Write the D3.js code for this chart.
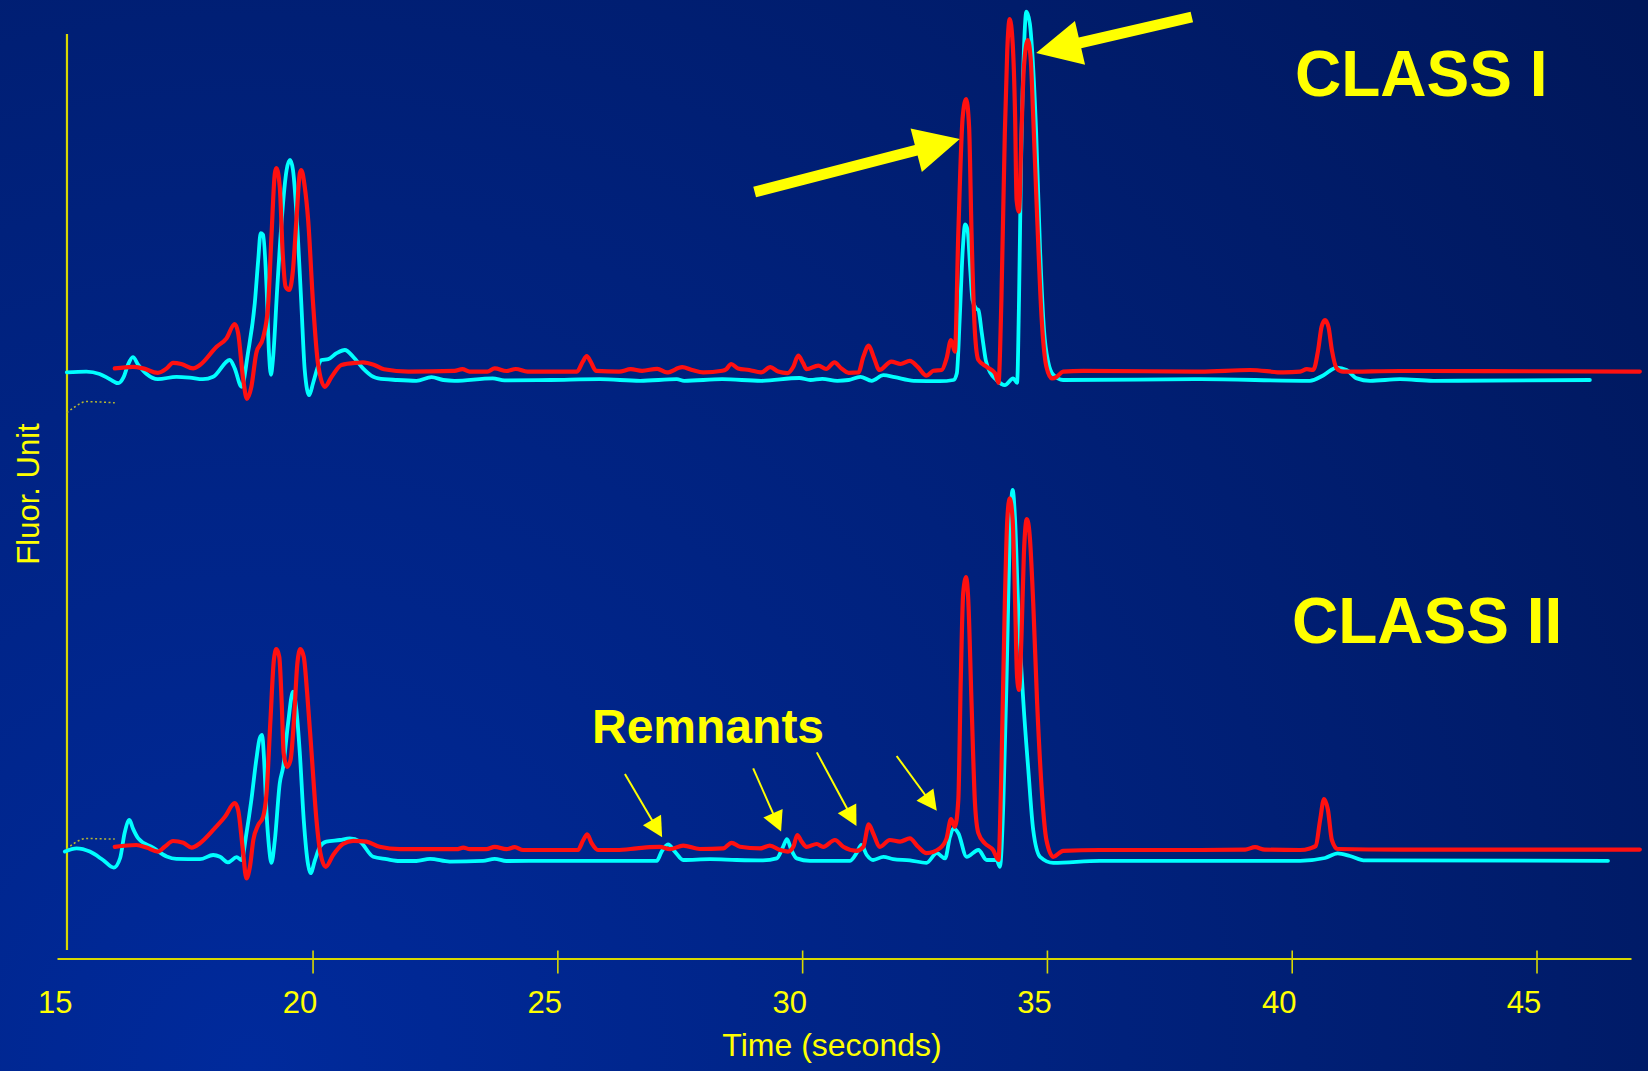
<!DOCTYPE html>
<html>
<head>
<meta charset="utf-8">
<script src="https://cdn.jsdelivr.net/npm/d3@7"></script>
<style>
  html, body { margin: 0; padding: 0; overflow: hidden; background: #001e72; }
  svg { display: block; }
</style>
</head>
<body>
<svg id="chart" width="1648" height="1071"></svg>
<script>
// ---- Electropherogram traces: [time (s), fluorescence (relative units)] ----
const timeTicks = [15, 20, 25, 30, 35, 40, 45];

// CLASS I, cyan trace
const class1Cyan = [
  [14.98,1.9],[15.38,2.1],[15.65,1.5],[15.86,0.2],[16.03,-0.8],[16.14,0.7],[16.23,3.8],[16.33,5.7],
  [16.44,3.8],[16.61,1.5],[16.84,0.2],[17.22,0.8],[17.49,0.6],[17.76,0.2],[17.97,0.8],[18.31,5.0],
  [18.41,2.9],[18.55,-1.7],[18.68,6.7],[18.82,19.2],[18.89,30.0],[18.94,36.7],[18.99,36.3],[19.06,23.3],
  [19.11,6.7],[19.15,1.3],[19.19,5.0],[19.28,23.3],[19.37,40.0],[19.47,52.5],[19.54,55.0],[19.60,52.5],
  [19.70,35.8],[19.77,19.2],[19.84,2.5],[19.93,-3.8],[20.01,-0.8],[20.11,3.3],[20.18,5.0],[20.32,5.2],
  [20.49,6.7],[20.66,7.5],[20.83,5.8],[21.03,2.9],[21.24,0.8],[21.34,0.4],[21.73,0],[22.12,-0.2],
  [22.43,0.7],[22.67,0],[22.90,-0.2],[23.68,0.4],[23.92,-0.1],[24.86,0],[25.87,0.2],[26.69,-0.2],
  [27.44,0.2],[27.59,-0.2],[28.37,0.2],[29.16,-0.2],[29.94,0.5],[30.17,0],[30.41,0.3],[30.72,-0.2],
  [30.95,0],[31.19,0.8],[31.42,-0.2],[31.66,1.2],[31.89,0.7],[32.28,-0.2],[32.81,-0.3],[33.09,0],
  [33.16,1.7],[33.22,15.8],[33.28,32.5],[33.33,38.9],[33.38,37.5],[33.43,28.3],[33.48,20.0],[33.55,17.9],
  [33.60,17.5],[33.67,11.7],[33.75,5.0],[33.85,1.7],[33.97,0],[34.14,-1.3],[34.31,0.4],[34.39,-0.7],
  [34.43,20.0],[34.47,53.3],[34.53,82.5],[34.58,92.1],[34.65,89.2],[34.71,80.0],[34.78,61.8],[34.86,32.5],
  [34.94,12.5],[35.03,4.3],[35.13,1.3],[35.33,0],[38.13,0.2],[40.37,-0.2],[40.65,1.2],[40.92,3.1],
  [41.12,2.5],[41.33,0.4],[41.60,-0.2],[42.21,0.2],[42.89,-0.2],[46.09,0]
];

// CLASS I, red trace
const class1Red = [
  [15.96,2.9],[16.33,3.3],[16.54,2.9],[16.84,1.8],[17.02,2.9],[17.15,4.3],[17.32,4.0],[17.56,2.9],
  [17.70,3.75],[18.04,8.3],[18.24,10.4],[18.41,14.0],[18.48,11.7],[18.58,0.5],[18.66,-4.7],[18.75,-1.7],
  [18.85,6.7],[18.99,10.6],[19.09,18.3],[19.16,35.8],[19.23,51.7],[19.26,53.0],[19.33,48.3],[19.39,31.7],
  [19.45,23.3],[19.52,22.5],[19.60,27.5],[19.67,40.0],[19.74,51.7],[19.77,52.5],[19.84,48.3],[19.91,40.0],
  [20.01,19.2],[20.11,4.2],[20.25,-1.7],[20.39,0.8],[20.59,3.75],[20.90,4.3],[21.03,4.4],[21.26,3.75],
  [21.46,2.7],[21.96,2.1],[22.90,2.3],[23.06,2.7],[23.21,2.1],[23.57,2.1],[23.72,2.9],[23.96,2.25],
  [24.15,2.75],[24.39,2.1],[25.40,2.1],[25.52,4.6],[25.60,6.0],[25.68,4.6],[25.79,2.3],[26.26,2.1],
  [26.50,2.7],[26.73,2.3],[27.04,2.8],[27.24,1.9],[27.55,3.2],[27.75,2.5],[27.98,1.9],[28.37,2.3],
  [28.45,2.7],[28.55,4.0],[28.69,2.9],[28.92,2.5],[29.16,1.9],[29.35,3.2],[29.51,2.1],[29.70,1.7],
  [29.82,3.3],[29.92,6.1],[30.02,4.2],[30.09,2.7],[30.33,3.6],[30.49,2.75],[30.66,4.4],[30.80,2.9],
  [30.95,1.8],[31.15,1.9],[31.25,5.8],[31.36,8.6],[31.46,5.8],[31.58,2.5],[31.82,4.6],[32.01,4.0],
  [32.20,4.8],[32.36,3.3],[32.54,1.1],[32.68,2.3],[32.85,2.5],[32.95,5.4],[33.04,10.0],[33.12,7.1],
  [33.19,36.75],[33.28,65.8],[33.35,70.25],[33.41,63.3],[33.46,36.75],[33.53,11.75],[33.60,5.0],[33.77,3.3],
  [33.94,1.7],[34.01,-0.7],[34.07,20.0],[34.14,61.75],[34.19,82.5],[34.24,90.2],[34.30,84.2],[34.35,65.8],
  [34.38,45.0],[34.43,42.1],[34.48,61.7],[34.53,78.3],[34.61,85.0],[34.67,80.0],[34.72,65.8],[34.80,40.8],
  [34.89,15.8],[34.99,3.3],[35.10,0.4],[35.20,0.8],[35.33,2.1],[35.74,2.3],[38.13,2.1],[39.15,2.5],
  [39.83,1.9],[40.17,2.1],[40.31,2.7],[40.44,2.5],[40.54,7.5],[40.61,13.3],[40.68,15.0],[40.75,13.3],
  [40.82,7.5],[40.92,2.9],[41.05,2.1],[42.21,2.25],[47.11,2.1]
];

// CLASS II, cyan trace
const class2Cyan = [
  [14.94,2.1],[15.18,2.9],[15.45,2.1],[15.72,0],[15.94,-1.9],[16.07,0.5],[16.16,6.7],[16.26,10.0],
  [16.33,7.9],[16.44,5.4],[16.74,3.1],[17.02,0.9],[17.22,0.3],[17.70,0.2],[17.97,1.25],[18.11,0.8],
  [18.27,-0.6],[18.45,0.7],[18.55,0],[18.65,6.7],[18.75,15.0],[18.85,25.0],[18.92,30.4],[18.97,31.25],
  [19.01,25.0],[19.06,11.7],[19.11,3.3],[19.16,-0.7],[19.23,5.0],[19.33,19.2],[19.40,23.3],[19.50,34.2],
  [19.60,42.1],[19.67,37.5],[19.74,26.7],[19.82,10.0],[19.91,-1.25],[19.96,-3.3],[20.05,0],[20.15,3.3],
  [20.28,4.6],[20.56,5.0],[20.76,5.4],[20.97,4.6],[21.24,0.8],[21.51,0.2],[21.78,-0.25],[22.12,-0.25],
  [22.40,0.3],[22.80,-0.4],[23.48,-0.2],[23.72,0.3],[23.96,-0.25],[24.85,-0.2],[27.03,-0.2],[27.13,2.1],
  [27.26,3.9],[27.40,2.1],[27.57,0],[28.12,0.2],[28.66,0],[29.20,-0.1],[29.48,0.4],[29.61,3.3],
  [29.69,5.2],[29.78,2.5],[29.89,0.4],[30.16,-0.2],[30.98,-0.2],[31.11,1.7],[31.21,3.75],[31.32,1.25],
  [31.45,0],[31.66,0.8],[31.86,0.2],[32.20,-0.1],[32.54,-0.7],[32.75,1.7],[32.92,0.4],[33.02,5.8],
  [33.09,7.9],[33.19,6.7],[33.36,0.8],[33.60,2.5],[33.77,0],[33.97,0],[34.04,-1.7],[34.11,14.25],
  [34.18,47.5],[34.24,80.8],[34.30,92.5],[34.35,85.0],[34.41,64.25],[34.52,39.25],[34.62,22.5],[34.72,7.5],
  [34.86,0.8],[35.13,-0.7],[36.08,-0.2],[40.17,-0.2],[40.68,0.5],[40.94,1.65],[41.19,1.0],[41.50,-0.1],
  [46.46,-0.2]
];

// CLASS II, red trace
const class2Red = [
  [15.96,3.3],[16.40,3.75],[16.61,3.1],[16.84,2.1],[16.98,3.3],[17.15,4.75],[17.36,4.3],[17.53,3.1],
  [17.70,4.2],[18.00,7.9],[18.21,10.8],[18.41,14.2],[18.48,12.5],[18.57,3.3],[18.65,-4.6],[18.72,-1.7],
  [18.79,5.0],[18.89,8.75],[18.99,10.8],[19.06,16.7],[19.14,35.0],[19.21,50.0],[19.26,52.7],[19.32,50.8],
  [19.37,39.2],[19.41,26.7],[19.48,23.3],[19.55,25.0],[19.62,35.0],[19.69,49.2],[19.75,52.7],[19.82,50.8],
  [19.89,41.7],[19.98,26.7],[20.08,10.0],[20.16,1.7],[20.27,-1.7],[20.42,1.25],[20.62,4.0],[20.83,4.8],
  [21.10,4.6],[21.37,3.3],[21.78,2.7],[22.94,2.7],[23.08,3.1],[23.21,2.7],[23.55,2.7],[23.72,3.3],
  [23.96,2.7],[24.13,3.2],[24.30,2.5],[25.42,2.5],[25.53,5.0],[25.61,6.4],[25.70,4.2],[25.83,2.5],
  [26.21,2.5],[26.62,2.9],[26.89,3.2],[27.09,3.3],[27.30,2.7],[27.57,3.6],[27.91,2.75],[28.39,2.9],
  [28.56,4.3],[28.73,3.3],[29.14,2.9],[29.34,3.6],[29.55,2.5],[29.71,2.1],[29.82,3.3],[29.90,6.25],
  [29.99,4.6],[30.09,3.3],[30.30,4.0],[30.43,3.3],[30.67,5.0],[30.84,3.3],[31.11,2.3],[31.25,3.3],
  [31.36,8.9],[31.45,6.7],[31.59,3.3],[31.79,5.0],[32.00,4.6],[32.20,5.4],[32.37,3.3],[32.54,1.7],
  [32.81,2.9],[32.95,5.4],[33.04,10.2],[33.12,8.3],[33.19,15.0],[33.24,45.0],[33.29,66.75],[33.35,70.7],
  [33.39,65.8],[33.46,39.25],[33.53,14.25],[33.60,6.7],[33.73,4.2],[33.90,2.5],[34.01,0],[34.07,22.5],
  [34.14,64.25],[34.19,85.0],[34.24,90.4],[34.30,85.0],[34.35,64.25],[34.39,45.8],[34.43,42.5],[34.48,55.8],
  [34.53,76.75],[34.59,85.25],[34.65,80.8],[34.72,64.25],[34.80,39.25],[34.89,18.3],[34.99,5.0],[35.13,0.8],
  [35.33,2.3],[36.08,2.5],[38.13,2.5],[39.05,2.6],[39.25,3.2],[39.45,2.6],[40.17,2.5],[40.37,2.9],
  [40.49,3.5],[40.58,10.0],[40.66,15.25],[40.74,12.5],[40.82,5.0],[40.94,2.75],[42.21,2.6],[47.11,2.6]
];

// Faint dotted start-up segments
const class1Dotted = [[14.98,-8.2],[15.14,-6.75],[15.38,-5.4],[15.65,-5.5],[15.96,-5.7]];
const class2Dotted = [[14.98,2.7],[15.14,4.25],[15.38,5.4],[15.65,5.3],[15.96,5.25]];

// Annotations (time, fluorescence) in their panel
const panelLabels = ["CLASS I", "CLASS II"];
const class1Arrows = [
  { from: [29.03, 47.0],  to: [33.22, 60.25] },
  { from: [37.96, 90.75], to: [34.78, 81.75] }
];
const remnantArrows = [
  { from: [26.38, 21.5], to: [27.14, 5.7] },
  { from: [29.00, 22.9], to: [29.57, 7.1] },
  { from: [30.30, 26.9], to: [31.11, 8.5] },
  { from: [31.93, 26.0], to: [32.75, 12.3] }
];
const remnantLabel = "Remnants";

// ---- Drawing ----
const W = 1648, H = 1071;
const YELLOW = "#ffff00";
const AXIS = "#d8d800";
const CYAN = "#00ffff";
const RED = "#ff1010";
const FONT = "'Liberation Sans', Arial, Helvetica, sans-serif";

const svg = d3.select("#chart");

// background
const defs = svg.append("defs");
const grad = defs.append("radialGradient")
  .attr("id", "bg").attr("gradientUnits", "userSpaceOnUse")
  .attr("cx", 250).attr("cy", 1071).attr("r", 1750);
grad.append("stop").attr("offset", 0).attr("stop-color", "#002a9c");
grad.append("stop").attr("offset", 0.5).attr("stop-color", "#00217c");
grad.append("stop").attr("offset", 1).attr("stop-color", "#00175a");
svg.append("rect").attr("width", W).attr("height", H).attr("fill", "url(#bg)");

// scales
const x = d3.scaleLinear().domain([14.78, 46.93]).range([57, 1631]);
const yTop = d3.scaleLinear().domain([0, 100]).range([380, -20]);
const yBottom = d3.scaleLinear().domain([0, 100]).range([860, 460]);

// axes
const xAxisG = svg.append("g").attr("transform", "translate(0,958.5)");
xAxisG.call(d3.axisBottom(x).tickValues(timeTicks).tickSize(15).tickSizeOuter(0).tickFormat(d3.format("d")));
xAxisG.select(".domain").attr("stroke", AXIS).attr("stroke-width", 2.2);
xAxisG.selectAll(".tick line").attr("stroke", AXIS).attr("stroke-width", 1.6).attr("y1", -8);
xAxisG.selectAll(".tick").filter(d => d === 15).select("line").remove();
xAxisG.selectAll(".tick text")
  .attr("fill", YELLOW).attr("y", 54.5).attr("dy", 0).attr("dx", -13)
  .style("font-family", FONT).style("font-size", "31px");

svg.append("line")
  .attr("x1", x(15) - 0.8).attr("x2", x(15) - 0.8)
  .attr("y1", 34).attr("y2", 950)
  .attr("stroke", AXIS).attr("stroke-width", 2.2);

svg.append("text")
  .attr("x", 832).attr("y", 1056).attr("text-anchor", "middle")
  .attr("fill", YELLOW).style("font-family", FONT).style("font-size", "32px")
  .text("Time (seconds)");

svg.append("text")
  .attr("transform", "translate(39,494) rotate(-90)").attr("text-anchor", "middle")
  .attr("fill", YELLOW).style("font-family", FONT).style("font-size", "31px")
  .text("Fluor. Unit");

// traces
function trace(data, y, color, width, dash) {
  const line = d3.line().x(d => x(d[0])).y(d => y(d[1])).curve(d3.curveMonotoneX);
  const p = svg.append("path").datum(data).attr("d", line)
    .attr("fill", "none").attr("stroke", color).attr("stroke-width", width)
    .attr("stroke-linejoin", "round").attr("stroke-linecap", "round");
  if (dash) p.attr("stroke-dasharray", dash).attr("stroke-linecap", "butt");
  return p;
}

trace(class1Dotted, yTop, "#b8b830", 1.5, "2,2.5");
trace(class2Dotted, yBottom, "#b8b830", 1.5, "2,2.5");
trace(class1Cyan, yTop, CYAN, 3.8);
trace(class1Red, yTop, RED, 4.2);
trace(class2Cyan, yBottom, CYAN, 3.8);
trace(class2Red, yBottom, RED, 4.2);

// block arrows (CLASS I)
function blockArrow(x1, y1, x2, y2, shaftW, headL, headW) {
  const dx = x2 - x1, dy = y2 - y1, L = Math.hypot(dx, dy);
  const ux = dx / L, uy = dy / L, px = -uy, py = ux;
  const bx = x2 - ux * headL, by = y2 - uy * headL;
  const pts = [
    [x1 + px * shaftW / 2, y1 + py * shaftW / 2],
    [bx + px * shaftW / 2, by + py * shaftW / 2],
    [bx + px * headW / 2, by + py * headW / 2],
    [x2, y2],
    [bx - px * headW / 2, by - py * headW / 2],
    [bx - px * shaftW / 2, by - py * shaftW / 2],
    [x1 - px * shaftW / 2, y1 - py * shaftW / 2]
  ];
  svg.append("polygon").attr("points", pts.map(p => p.join(",")).join(" ")).attr("fill", YELLOW);
}
class1Arrows.forEach(a => blockArrow(x(a.from[0]), yTop(a.from[1]), x(a.to[0]), yTop(a.to[1]), 11, 45, 45));

// thin arrows (Remnants)
function thinArrow(x1, y1, x2, y2, headL, headW) {
  const dx = x2 - x1, dy = y2 - y1, L = Math.hypot(dx, dy);
  const ux = dx / L, uy = dy / L, px = -uy, py = ux;
  const bx = x2 - ux * headL, by = y2 - uy * headL;
  svg.append("line").attr("x1", x1).attr("y1", y1).attr("x2", bx + ux * 2).attr("y2", by + uy * 2)
    .attr("stroke", YELLOW).attr("stroke-width", 2);
  svg.append("polygon")
    .attr("points", [[bx + px * headW / 2, by + py * headW / 2], [x2, y2], [bx - px * headW / 2, by - py * headW / 2]]
      .map(p => p.join(",")).join(" "))
    .attr("fill", YELLOW);
}
remnantArrows.forEach(a => thinArrow(x(a.from[0]), yBottom(a.from[1]), x(a.to[0]), yBottom(a.to[1]), 20, 21));

// labels
const boldText = (t, px, py, size) => svg.append("text")
  .attr("x", px).attr("y", py).attr("fill", YELLOW)
  .style("font-family", FONT).style("font-weight", "bold").style("font-size", size + "px")
  .text(t);
boldText(panelLabels[0], 1295, 96, 64);
boldText(panelLabels[1], 1292, 643, 64);
boldText(remnantLabel, 592, 743, 48);
</script>
</body>
</html>
